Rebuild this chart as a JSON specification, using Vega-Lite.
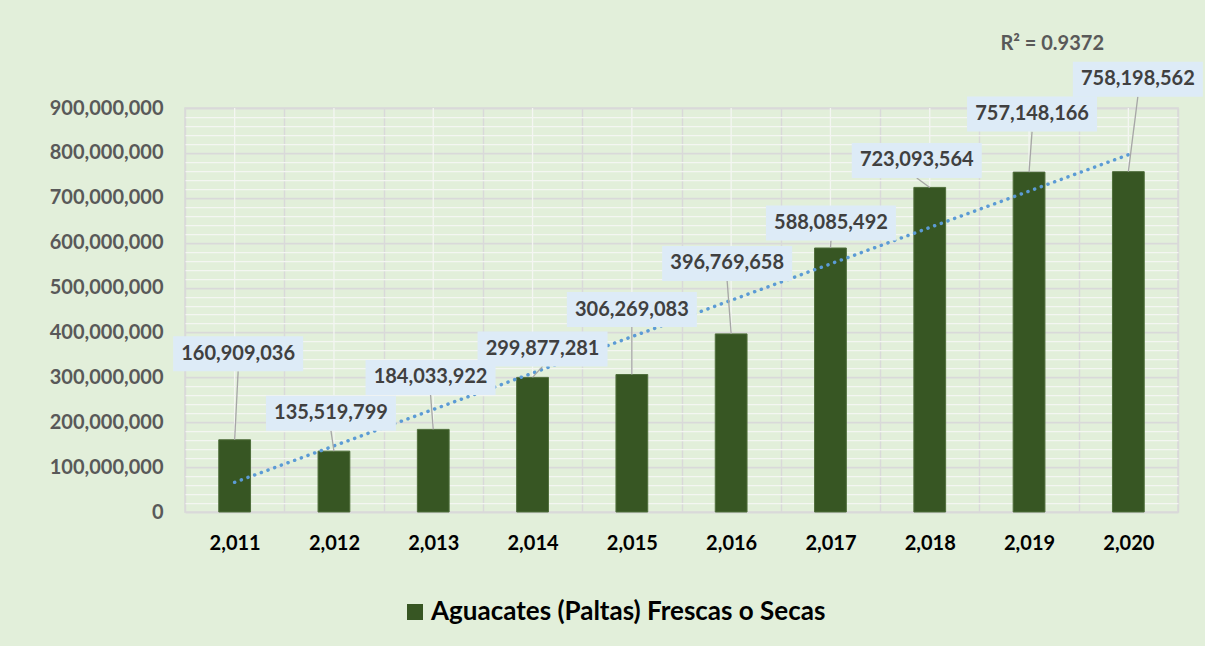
{
  "$schema": "https://vega.github.io/schema/vega-lite/v6.json",
  "width": 993,
  "height": 404,
  "autosize": {"type": "none"},
  "padding": {"top": 108, "left": 185, "right": 27, "bottom": 134},
  "background": "#E2EFDA",
  "title": {
    "text": "R² = 0.9372",
    "anchor": "end",
    "frame": "group",
    "dx": -74,
    "offset": -2,
    "baseline": "middle",
    "font": "Lato",
    "fontSize": 20,
    "fontWeight": "bold",
    "color": "#595959"
  },
  "config": {
    "view": {"stroke": "#D9D9D9", "strokeWidth": 1.5, "fill": "#E2EFDA"},
    "font": "Lato"
  },
  "data": {
    "values": [
      {"year": 2011, "value": 160909036, "series": "Aguacates (Paltas) Frescas o Secas"},
      {"year": 2012, "value": 135519799, "series": "Aguacates (Paltas) Frescas o Secas"},
      {"year": 2013, "value": 184033922, "series": "Aguacates (Paltas) Frescas o Secas"},
      {"year": 2014, "value": 299877281, "series": "Aguacates (Paltas) Frescas o Secas"},
      {"year": 2015, "value": 306269083, "series": "Aguacates (Paltas) Frescas o Secas"},
      {"year": 2016, "value": 396769658, "series": "Aguacates (Paltas) Frescas o Secas"},
      {"year": 2017, "value": 588085492, "series": "Aguacates (Paltas) Frescas o Secas"},
      {"year": 2018, "value": 723093564, "series": "Aguacates (Paltas) Frescas o Secas"},
      {"year": 2019, "value": 757148166, "series": "Aguacates (Paltas) Frescas o Secas"},
      {"year": 2020, "value": 758198562, "series": "Aguacates (Paltas) Frescas o Secas"}
    ]
  },
  "layer": [
    {
      "mark": {"type": "rule", "color": "#F4F6F2", "strokeWidth": 1.3},
      "encoding": {
        "x": {
          "field": "year",
          "type": "ordinal",
          "scale": {"paddingInner": 0, "paddingOuter": 0},
          "axis": {
            "title": null,
            "labelExpr": "isValid(datum.value) && isFinite(datum.value) ? format(datum.value, ',') : ''",
            "tickBand": "extent",
            "ticks": false,
            "tickSize": 0,
            "domain": false,
            "grid": true,
            "gridColor": "#D9D9D9",
            "gridWidth": 1.5,
            "labelFont": "Lato",
            "labelFontSize": 20,
            "labelFontWeight": "bold",
            "labelColor": "#000000",
            "labelPadding": 31,
            "labelBaseline": "middle",
            "labelAngle": 0
          }
        }
      }
    },
    {
      "mark": {"type": "bar", "width": {"band": 0.32}, "stroke": "#4F6E3B", "strokeWidth": 1},
      "encoding": {
        "x": {"field": "year", "type": "ordinal"},
        "y": {
          "field": "value",
          "type": "quantitative",
          "scale": {"domain": [0, 900000000], "nice": false},
          "axis": {
            "title": null,
            "values": [0, 20000000, 40000000, 60000000, 80000000, 100000000, 120000000, 140000000, 160000000, 180000000, 200000000, 220000000, 240000000, 260000000, 280000000, 300000000, 320000000, 340000000, 360000000, 380000000, 400000000, 420000000, 440000000, 460000000, 480000000, 500000000, 520000000, 540000000, 560000000, 580000000, 600000000, 620000000, 640000000, 660000000, 680000000, 700000000, 720000000, 740000000, 760000000, 780000000, 800000000, 820000000, 840000000, 860000000, 880000000, 900000000],
            "tickCount": 60,
            "labelExpr": "datum.value % 100000000 === 0 ? format(datum.value, ',') : ''",
            "labelOverlap": false,
            "ticks": false,
            "tickSize": 0,
            "domain": false,
            "grid": true,
            "gridColor": {"condition": {"test": "datum.value % 100000000 === 0", "value": "#D9D9D9"}, "value": "#F4F6F2"},
            "gridWidth": {"condition": {"test": "datum.value % 100000000 === 0", "value": 1.75}, "value": 1.25},
            "labelFont": "Lato",
            "labelFontSize": 20,
            "labelFontWeight": "bold",
            "labelColor": "#595959",
            "labelPadding": 22
          }
        },
        "color": {
          "field": "series",
          "type": "nominal",
          "scale": {"range": ["#375623"]},
          "legend": {
            "orient": "none",
            "legendX": 217,
            "legendY": 491,
            "title": null,
            "padding": 0,
            "symbolType": "square",
            "symbolSize": 256,
            "symbolStrokeWidth": 0,
            "labelFont": "Lato",
            "labelFontSize": 26,
            "labelFontWeight": "bold",
            "labelColor": "#000000",
            "labelOffset": 3,
            "labelLimit": 0
          }
        }
      }
    },
    {
      "transform": [{"regression": "value", "on": "year"}],
      "mark": {"type": "line", "color": "#5B9BD5", "strokeWidth": 3.5, "strokeDash": [0.1, 7], "strokeCap": "round"},
      "encoding": {
        "x": {"field": "year", "type": "ordinal"},
        "y": {"field": "value", "type": "quantitative"}
      }
    },
    {
      "mark": {
        "type": "rule",
        "color": "#A6A6A6",
        "strokeWidth": 1.3,
        "x2Offset": {"expr": "[3.5, -3, -2.7, 10, 0, -4, 0.5, -13, 3, 9.5][datum.year - 2011]"},
        "y2Offset": {"expr": "[-86, -38, -52, -28.5, -65, -70.5, -25, -27, -58, -92.5][datum.year - 2011] + 17.5"}
      },
      "encoding": {
        "x": {"field": "year", "type": "ordinal"},
        "x2": {"field": "year"},
        "y": {"field": "value", "type": "quantitative"},
        "y2": {"field": "value"}
      }
    },
    {
      "mark": {
        "type": "bar",
        "width": 130,
        "color": "#DDEBF7",
        "xOffset": {"expr": "[3.5, -3, -2.7, 10, 0, -4, 0.5, -13, 3, 9.5][datum.year - 2011]"},
        "yOffset": {"expr": "[-86, -38, -52, -28.5, -65, -70.5, -25, -27, -58, -92.5][datum.year - 2011] - 17.5"},
        "y2Offset": {"expr": "[-86, -38, -52, -28.5, -65, -70.5, -25, -27, -58, -92.5][datum.year - 2011] + 17.5"}
      },
      "encoding": {
        "x": {"field": "year", "type": "ordinal"},
        "y": {"field": "value", "type": "quantitative"},
        "y2": {"field": "value"}
      }
    },
    {
      "mark": {
        "type": "text",
        "font": "Lato",
        "fontSize": 20,
        "fontWeight": "bold",
        "color": "#404040",
        "align": "center",
        "baseline": "middle",
        "xOffset": {"expr": "[3.5, -3, -2.7, 10, 0, -4, 0.5, -13, 3, 9.5][datum.year - 2011]"},
        "yOffset": {"expr": "[-86, -38, -52, -28.5, -65, -70.5, -25, -27, -58, -92.5][datum.year - 2011]"}
      },
      "encoding": {
        "x": {"field": "year", "type": "ordinal"},
        "y": {"field": "value", "type": "quantitative"},
        "text": {"field": "value", "type": "quantitative", "format": ","}
      }
    }
  ]
}
